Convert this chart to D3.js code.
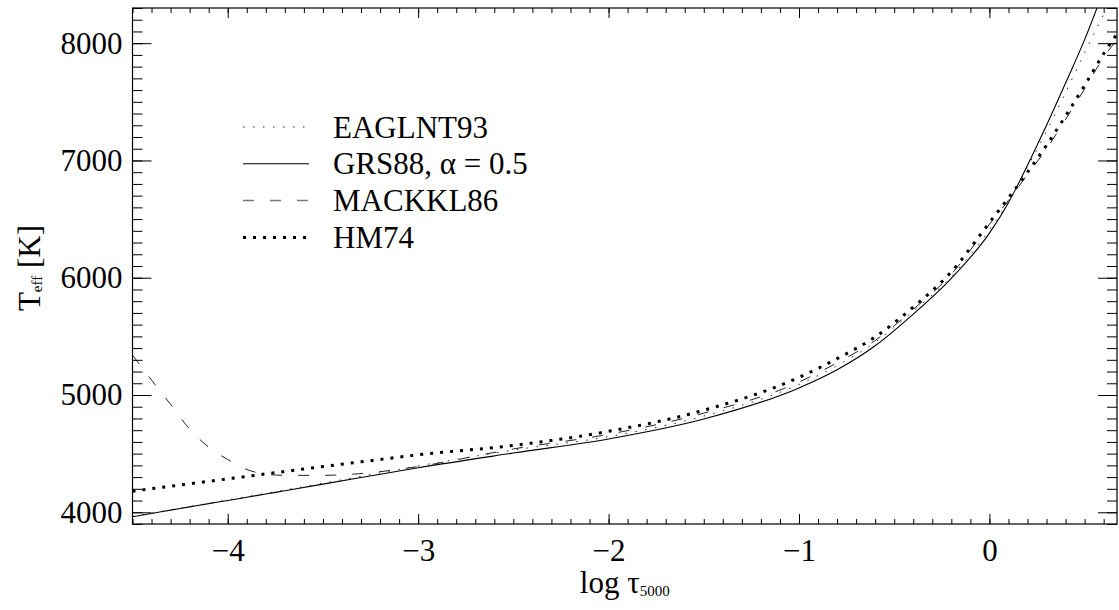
<!DOCTYPE html>
<html>
<head>
<meta charset="utf-8">
<script src="https://cdn.jsdelivr.net/npm/d3@7"></script>
<style>
  body { margin: 0; background: #fff; }
  svg { display: block; }
</style>
</head>
<body>
<svg id="chart"></svg>
<script>
// log tau_5000 grid shared by the models
var logTau = [-4.5, -4.4, -4.3, -4.2, -4.1, -4.0, -3.9, -3.8, -3.7, -3.5, -3.3, -3.0, -2.5, -2.0, -1.5, -1.0, -0.8, -0.6, -0.4, -0.2, 0.0, 0.1, 0.2, 0.3, 0.4, 0.5, 0.6, 0.67];

// temperatures [K]
var eaglnt93 = [3965, 3993, 4021, 4049, 4077, 4105, 4133, 4161, 4190, 4248, 4306, 4395, 4530, 4645, 4820, 5090, 5250, 5450, 5715, 6010, 6410, 6650, 6945, 7250, 7580, 7920, 8250, 8500];
var grs88 = [3962, 3990, 4018, 4046, 4074, 4100, 4128, 4156, 4184, 4240, 4296, 4380, 4505, 4625, 4795, 5060, 5215, 5420, 5690, 5995, 6380, 6640, 6960, 7300, 7660, 8030, 8450, 8750];
var mackkl86 = [5340, 5128, 4920, 4710, 4555, 4450, 4365, 4325, 4315, 4315, 4330, 4390, 4540, 4665, 4845, 5110, 5275, 5465, 5730, 6030, 6455, 6660, 6880, 7100, 7350, 7610, 7880, 8030];
var hm74 = [4180, 4201, 4222, 4243, 4264, 4285, 4306, 4327, 4348, 4390, 4430, 4490, 4570, 4690, 4870, 5150, 5310, 5495, 5750, 6050, 6470, 6680, 6900, 7130, 7380, 7640, 7910, 8080];

var seriesNames = ["EAGLNT93", "GRS88, α = 0.5", "MACKKL86", "HM74"];
var xTicks = [-4, -3, -2, -1, 0];
var yTicks = [4000, 5000, 6000, 7000, 8000];

var width = 1119, height = 610;
var font = "'Liberation Serif', 'Times New Roman', serif";

var svg = d3.select("#chart")
    .attr("width", width)
    .attr("height", height);

var x = d3.scaleLinear().domain([-4.5, 0.67]).range([132.5, 1117]);
var y = d3.scaleLinear().domain([3900, 8300]).range([524, 8]);

var styles = [
    { width: 1, dash: "1.5,8.5", color: "#222" },
    { width: 1.1, dash: null, color: "#000" },
    { width: 1, dash: "11,16", color: "#222" },
    { width: 3, dash: "3,7", color: "#000" }
];
var models = [eaglnt93, grs88, mackkl86, hm74];

svg.append("clipPath").attr("id", "clip")
  .append("rect")
    .attr("x", x.range()[0]).attr("y", y.range()[1])
    .attr("width", x.range()[1] - x.range()[0])
    .attr("height", y.range()[0] - y.range()[1]);

var line = d3.line()
    .x(d => x(d[0]))
    .y(d => y(d[1]))
    .curve(d3.curveMonotoneX);

svg.append("g")
    .attr("clip-path", "url(#clip)")
  .selectAll("path")
  .data(models)
  .join("path")
    .attr("fill", "none")
    .attr("stroke", (d, i) => styles[i].color)
    .attr("stroke-width", (d, i) => styles[i].width)
    .attr("stroke-dasharray", (d, i) => styles[i].dash)
    .attr("d", d => line(d.map((t, j) => [logTau[j], t])));

// axes: majors with labels, minors without
function styleAxis(g) {
    g.select(".domain").remove();
    g.attr("font-family", font).attr("font-size", 31);
    g.selectAll("line").attr("stroke", "#000");
    g.selectAll("text").attr("fill", "#000");
}

var minorX = d3.range(-4.5, 0.67, 0.1).map(v => +v.toFixed(1));
var minorY = d3.range(3900, 8301, 100);

svg.append("g").attr("transform", "translate(0,524)")
    .call(d3.axisBottom(x).tickValues(xTicks).tickSize(-10).tickSizeOuter(0).tickPadding(15).tickFormat(d3.format("d")))
    .call(styleAxis);
svg.append("g").attr("transform", "translate(0,524)")
    .call(d3.axisBottom(x).tickValues(minorX).tickSize(-5).tickSizeOuter(0).tickFormat(""))
    .call(styleAxis);
svg.append("g").attr("transform", "translate(0,8)")
    .call(d3.axisTop(x).tickValues(xTicks).tickSize(-10).tickSizeOuter(0).tickFormat(""))
    .call(styleAxis);
svg.append("g").attr("transform", "translate(0,8)")
    .call(d3.axisTop(x).tickValues(minorX).tickSize(-5).tickSizeOuter(0).tickFormat(""))
    .call(styleAxis);

svg.append("g").attr("transform", "translate(132.5,0)")
    .call(d3.axisLeft(y).tickValues(yTicks).tickSize(-19).tickSizeOuter(0).tickPadding(10).tickFormat(d3.format("d")))
    .call(styleAxis);
svg.append("g").attr("transform", "translate(132.5,0)")
    .call(d3.axisLeft(y).tickValues(minorY).tickSize(-10).tickSizeOuter(0).tickFormat(""))
    .call(styleAxis);
svg.append("g").attr("transform", "translate(1117,0)")
    .call(d3.axisRight(y).tickValues(yTicks).tickSize(-19).tickSizeOuter(0).tickFormat(""))
    .call(styleAxis);
svg.append("g").attr("transform", "translate(1117,0)")
    .call(d3.axisRight(y).tickValues(minorY).tickSize(-10).tickSizeOuter(0).tickFormat(""))
    .call(styleAxis);

svg.append("rect")
    .attr("x", 132.5).attr("y", 8)
    .attr("width", 1117 - 132.5).attr("height", 524 - 8)
    .attr("fill", "none").attr("stroke", "#000").attr("stroke-width", 1.2);

// axis titles
var xt = svg.append("text")
    .attr("x", (x.range()[0] + x.range()[1]) / 2).attr("y", 593)
    .attr("text-anchor", "middle")
    .attr("font-family", font).attr("font-size", 31);
xt.append("tspan").text("log τ");
xt.append("tspan").attr("font-size", 15).attr("dy", 3).text("5000");

var yt = svg.append("text")
    .attr("transform", "translate(40,268) rotate(-90)")
    .attr("text-anchor", "middle")
    .attr("font-family", font).attr("font-size", 31);
yt.append("tspan").text("T");
yt.append("tspan").attr("font-size", 15).attr("dy", 2).text("eff");
yt.append("tspan").attr("dy", -2).text(" [K]");

// legend
var legend = svg.append("g");
seriesNames.forEach((name, i) => {
    var cy = 127 + i * 36.8;
    legend.append("line")
        .attr("x1", 243).attr("x2", 309)
        .attr("y1", cy).attr("y2", cy)
        .attr("stroke", i == 2 ? "#777" : styles[i].color)
        .attr("stroke-width", i == 2 ? 1.5 : styles[i].width)
        .attr("stroke-dasharray", styles[i].dash);
    legend.append("text")
        .attr("x", 333).attr("y", cy + 10.5)
        .attr("font-family", font).attr("font-size", 31)
        .text(name);
});
</script>
</body>
</html>
